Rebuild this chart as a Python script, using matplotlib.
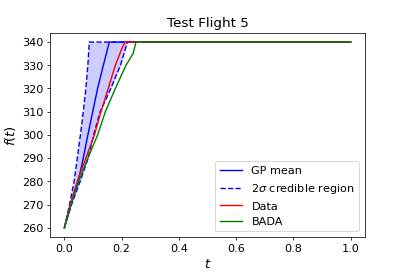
import numpy as np
import matplotlib
matplotlib.use("Agg")
import matplotlib.pyplot as plt

# altitude levels (f) and the t at which each curve reaches them
f_levels = [260, 270, 280, 290, 300, 310, 320, 330, 340]
t_upper = [0.0, 0.018, 0.034, 0.045, 0.056, 0.066, 0.075, 0.082, 0.087]
t_mean = [0.0, 0.022, 0.048, 0.066, 0.082, 0.099, 0.116, 0.136, 0.157]
t_lower = [0.0, 0.025, 0.055, 0.083, 0.102, 0.125, 0.162, 0.196, 0.220]

data_f = [260, 270, 280, 290, 300, 310, 320, 330, 337, 340]
data_t = [0.0, 0.020, 0.045, 0.075, 0.105, 0.128, 0.153, 0.178, 0.200, 0.212]

bada_f = [260, 270, 280, 290, 300, 310, 320, 330, 335, 340]
bada_t = [0.0, 0.023, 0.050, 0.082, 0.116, 0.143, 0.178, 0.215, 0.240, 0.250]

t_end = 1.0
f_end = 340

plt.rcParams['font.size'] = 12

fig = plt.figure(figsize=(6, 4), dpi=407 / 6)
ax = fig.add_axes([0.123, 0.125, 0.774, 0.753])

ax.fill_betweenx(f_levels, t_upper, t_lower, color='blue', alpha=0.2, linewidth=0)
ax.plot(t_mean + [t_end], f_levels + [f_end], 'b-', label='GP mean')
ax.plot(t_upper + [t_end], f_levels + [f_end], 'b--', label=r'2$\sigma$ credible region')
ax.plot(t_lower + [t_end], f_levels + [f_end], 'b--')
ax.plot(data_t + [t_end], data_f + [f_end], 'r-', label='Data')
ax.plot(bada_t + [t_end], bada_f + [f_end], 'g-', label='BADA')

ax.set_title('Test Flight 5')
ax.set_xlabel('$t$', fontsize=14)
ax.set_ylabel('$f(t)$', fontsize=14)
ax.set_yticks(np.arange(260, 341, 10))
ax.legend(loc='lower right')

fig.savefig('out.png', dpi=407 / 6)
